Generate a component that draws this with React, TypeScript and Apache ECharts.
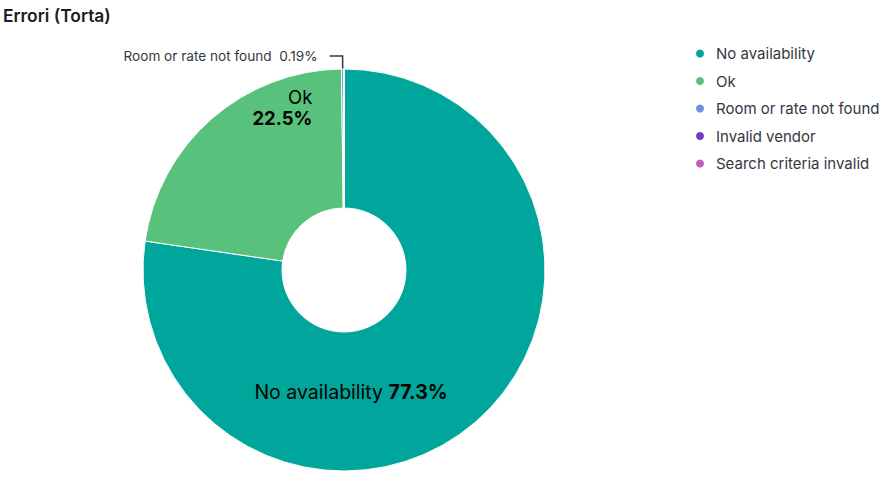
import React, { useEffect, useRef } from "react";
import * as echarts from "echarts";

const categories = [
  "No availability",
  "Ok",
  "Room or rate not found",
  "Invalid vendor",
  "Search criteria invalid",
];
const values = [77.3, 22.5, 0.19, 0.005, 0.005];
const colors = ["#00a69b", "#58c17b", "#6f8fe0", "#6a3fbd", "#c25ac2"];

export default function App() {
  const ref = useRef<HTMLDivElement>(null);
  useEffect(() => {
    document.body.style.margin = "0";
    const chart = echarts.init(ref.current!, null, { renderer: "svg" });
    const fmtInside = (p: any) => {
      if (p.dataIndex === 0) return `{n|${p.name} }{b|${p.percent.toFixed(1)}%}`;
      if (p.dataIndex === 1) return `{n|${p.name}}\n{b|${p.percent.toFixed(1)}%}`;
      return "";
    };
    chart.setOption({
      animation: false,
      title: {
        text: "Errori (Torta)",
        left: -2,
        top: 2,
        textStyle: { fontFamily: "Inter", fontSize: 17.4, fontWeight: 600, color: "#1a1c21" },
      },
      legend: {
        orient: "vertical",
        left: 689,
        top: 41,
        icon: "circle",
        itemWidth: 22,
        itemHeight: 10,
        itemGap: 12.5,
        data: categories,
        textStyle: { fontFamily: "Inter", fontSize: 15, color: "#343741" },
      },
      series: [
        {
          type: "pie",
          center: [344, 270],
          radius: [62, 201],
          startAngle: 90,
          clockwise: true,
          avoidLabelOverlap: false,
          minShowLabelAngle: 0,
          itemStyle: { borderColor: "#ffffff", borderWidth: 1 },
          data: categories.map((name, i) => {
            const item: any = { name, value: values[i], itemStyle: { color: colors[i] } };
            if (i <= 1) {
              const fs = i === 0 ? 19.5 : 18.5;
              const al = i === 1 ? "right" : "center";
              item.label = {
                show: true,
                position: "inside",
                formatter: fmtInside,
                align: al,
                rich: {
                  n: { fontFamily: "Inter", fontSize: fs, color: "#000000", lineHeight: 21, align: al },
                  b: { fontFamily: "Inter", fontSize: fs, fontWeight: "bold", color: "#000000", lineHeight: 21, align: al },
                },
              };
              item.labelLine = { show: false };
            } else if (i === 2) {
              item.label = {
                show: true,
                position: "outside",
                formatter: (p: any) => `${p.name}  ${p.percent.toFixed(2)}%`,
                fontFamily: "Inter",
                fontSize: 13.6,
                color: "#343741",
                distanceToLabelLine: 12,
              };
              item.labelLine = {
                show: true,
                length: 13,
                length2: 13,
                lineStyle: { color: "#343741", width: 1.5 },
              };
            } else {
              item.label = { show: false };
              item.labelLine = { show: false };
            }
            return item;
          }),
          labelLayout: (p: any) => {
            if (p.dataIndex === 0) return { dx: -81, dy: 20 };
            if (p.dataIndex === 1) return { dx: 27, dy: -61 };
            return {};
          },
        },
      ],
    });
    return () => chart.dispose();
  }, []);
  return <div ref={ref} style={{ width: 895, height: 482 }} />;
}
